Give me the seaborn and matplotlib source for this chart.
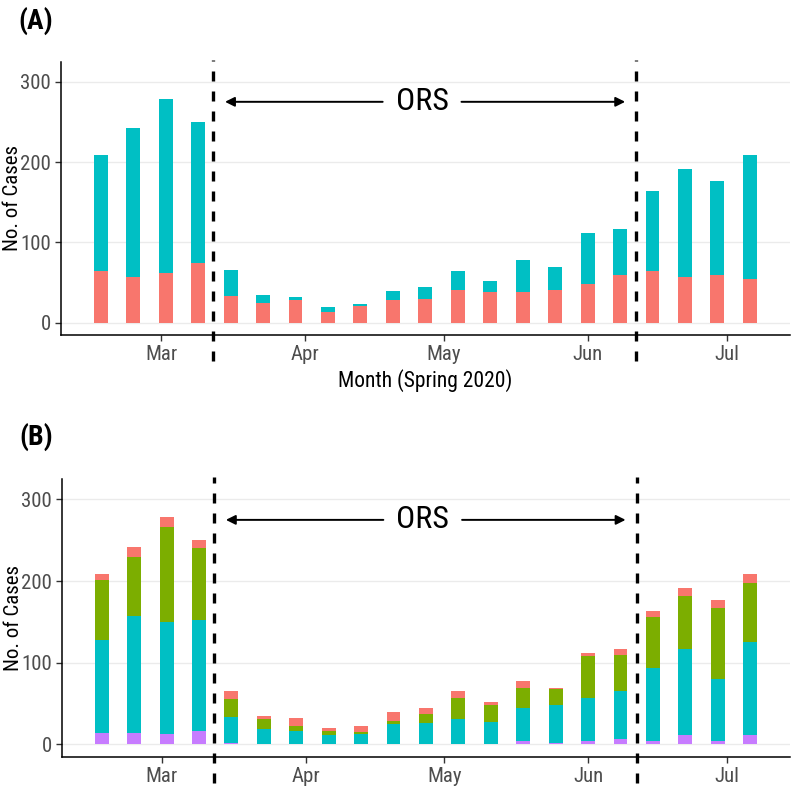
import pandas as pd
import numpy as np
import matplotlib
matplotlib.use('Agg')
import matplotlib.pyplot as plt
import matplotlib.font_manager as fm
import seaborn as sns

# weekly counts, spring 2020
weeks = ['2020-02-17', '2020-02-24', '2020-03-02', '2020-03-09', '2020-03-16',
         '2020-03-23', '2020-03-30', '2020-04-06', '2020-04-13', '2020-04-20',
         '2020-04-27', '2020-05-04', '2020-05-11', '2020-05-18', '2020-05-25',
         '2020-06-01', '2020-06-08', '2020-06-15', '2020-06-22', '2020-06-29',
         '2020-07-06']

# panel A (bottom -> top)
a_red = [65, 57, 62, 75, 34, 25, 28, 14, 21, 28, 30, 41, 39, 38, 41, 48, 60, 64, 57, 59, 55]
a_cyan = [144, 185, 216, 175, 32, 10, 4, 6, 2, 12, 15, 24, 13, 40, 28, 64, 57, 100, 135, 118, 154]

# panel B (bottom -> top)
b_purple = [14, 14, 13, 16, 2, 0, 0, 0, 0, 0, 0, 1, 0, 4, 2, 4, 7, 4, 11, 4, 11]
b_cyan = [114, 143, 137, 136, 31, 19, 16, 11, 13, 25, 26, 30, 28, 41, 46, 53, 58, 90, 106, 76, 115]
b_green = [73, 73, 116, 88, 23, 12, 7, 5, 2, 4, 11, 26, 20, 24, 20, 51, 44, 62, 65, 87, 72]
b_red = [8, 12, 12, 10, 10, 4, 9, 4, 8, 11, 8, 8, 4, 9, 1, 4, 8, 8, 10, 10, 11]

month_ticks = ['2020-03-01', '2020-04-01', '2020-05-01', '2020-06-01', '2020-07-01']
month_labels = ['Mar', 'Apr', 'May', 'Jun', 'Jul']
ors_lines = ['2020-03-12 05:00', '2020-06-11 12:00']

sns.set_theme(style='white')
names = {f.name for f in fm.fontManager.ttflist}
fam = [f for f in ['Liberation Sans Narrow', 'Roboto Condensed', 'DejaVu Sans Condensed', 'Roboto'] if f in names]
plt.rcParams['font.family'] = fam + ['DejaVu Sans']

origin = pd.Timestamp('2020-03-01')
def day(d):
    return (pd.to_datetime(d) - origin) / pd.Timedelta(days=1)

x = np.array([day(w) for w in weeks])
xt = [day(m) for m in month_ticks]

C_RED = '#F8766D'
C_GREEN = '#7CAE00'
C_CYAN = '#00BFC4'
C_PURPLE = '#C77CFF'

fig = plt.figure(figsize=(7.91, 7.87), dpi=100)
axA = fig.add_axes([0.0767, 0.574, 0.922, 0.3477])
axB = fig.add_axes([0.078, 0.0381, 0.921, 0.3532])


def stacked(ax, layers):
    # layers bottom -> top; draw cumulative totals from the top down
    cum = np.cumsum([np.array(v) for v, _ in layers], axis=0)
    for i in range(len(layers) - 1, -1, -1):
        df = pd.DataFrame({'x': x, 'y': cum[i]})
        sns.barplot(data=df, x='x', y='y', native_scale=True, color=layers[i][1],
                    saturation=1, errorbar=None, width=3 / 7, linewidth=0, ax=ax)


def style(ax, label, xlabel):
    ax.set_xlim(-21.65, 135.65)
    ax.set_ylim(-15.4, 325)
    ax.set_yticks([0, 100, 200, 300])
    ax.set_xticks(xt)
    ax.set_xticklabels(month_labels)
    ax.yaxis.grid(True, color='#EBEBEB', lw=1)
    ax.set_axisbelow(True)
    sns.despine(ax=ax)
    for s in ['left', 'bottom']:
        ax.spines[s].set_color('black')
        ax.spines[s].set_linewidth(1.1)
    ax.tick_params(axis='both', length=4, width=1, color='#333333',
                   labelcolor='#4D4D4D', labelsize=15, pad=3, bottom=True, left=True)
    ax.set_ylabel('No. of Cases', fontsize=15, color='black')
    ax.yaxis.set_label_coords(-0.053, 0.5)
    if xlabel:
        ax.set_xlabel('Month (Spring 2020)', fontsize=15.5, color='black')
        ax.xaxis.set_label_coords(0.5, -0.125)
    else:
        ax.set_xlabel('')
    for d in ors_lines:
        ax.plot([day(d), day(d)], [-47, 327], color='black', lw=2.4,
                dashes=(3, 3), clip_on=False, zorder=5)
    ax.annotate('', xy=(13.2, 275), xytext=(48.4, 275),
                arrowprops=dict(arrowstyle='-|>', color='black', lw=1.4, mutation_scale=14))
    ax.annotate('', xy=(100.7, 275), xytext=(64.2, 275),
                arrowprops=dict(arrowstyle='-|>', color='black', lw=1.4, mutation_scale=14))
    ax.text(56.3, 275, 'ORS', fontsize=23, ha='center', va='center', color='black')
    ax.text(-0.058, 1.15, label, transform=ax.transAxes, fontsize=20,
            fontweight='bold', ha='left', va='center', color='black')


stacked(axA, [(a_red, C_RED), (a_cyan, C_CYAN)])
style(axA, '(A)', True)
stacked(axB, [(b_purple, C_PURPLE), (b_cyan, C_CYAN), (b_green, C_GREEN), (b_red, C_RED)])
style(axB, '(B)', False)

fig.savefig('out.png', dpi=100)
